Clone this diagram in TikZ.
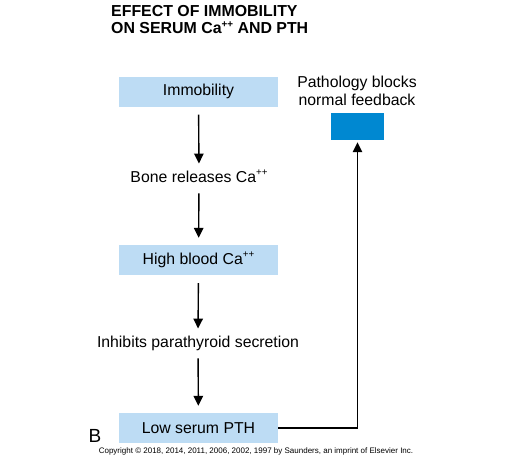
\documentclass[tikz,border=0pt]{standalone}
\usepackage{fontspec}
\setmainfont{Liberation Sans}
\usetikzlibrary{arrows.meta}

\definecolor{boxblue}{RGB}{189,220,244}
\definecolor{blockblue}{RGB}{0,136,209}

% small raised plus signs
\newcommand{\ionplus}{\raisebox{0.42em}{\fontsize{0.62em}{0.62em}\selectfont ++}}

\begin{document}
\begin{tikzpicture}[
    x=1pt, y=-1pt,
    box/.style={fill=boxblue, minimum width=159pt, minimum height=30pt, inner sep=0pt, font=\fontsize{15.8}{18}\selectfont},
    step txt/.style={inner sep=0pt, text height=11.5pt, text depth=3pt, font=\fontsize{15.8}{18}\selectfont},
    flow/.style={-{Triangle[length=10pt,width=9.5pt]}, line width=1.4pt, shorten <=8pt, shorten >=7pt},
    fb/.style={-{Triangle[length=10pt,width=9.5pt]}, line width=1.4pt, shorten >=2pt}
]
    \useasboundingbox (0,0) rectangle (512,459);

    % Title
    \node[anchor=north west, inner sep=0pt, align=left, font=\bfseries\fontsize{15.9}{17.5}\selectfont] (title) at (111,5)
        {EFFECT OF IMMOBILITY\\ON SERUM Ca\ionplus{} AND PTH};

    % Main chain
    \node[box] (immob) at (198.5,91.5) {Immobility};
    \node[step txt] (bone) at (199,178) {Bone releases Ca\ionplus};
    \node[box] (high) at (198.5,260) {High blood Ca\ionplus};
    \node[step txt] (inhib) at (198,343) {Inhibits parathyroid secretion};
    \node[box] (low) at (198.5,428) {Low serum PTH};

    % Blocked feedback
    \node[align=center, inner sep=0pt, font=\fontsize{15.8}{17.5}\selectfont] (patho) at (357,91) {Pathology blocks\\normal feedback};
    \node[fill=blockblue, minimum width=53pt, minimum height=27pt, inner sep=0pt] (block) at (357.5,126.5) {};

    \draw[flow] (immob) -- (bone);
    \draw[flow] (bone) -- (high);
    \draw[flow] (high) -- (inhib);
    \draw[flow] (inhib) -- (low);

    \draw[fb] (low.east) -| (block.south);

    % Panel letter and credit
    \node[inner sep=0pt, font=\fontsize{19}{20}\selectfont] (panel) at (95,436) {B};
    \node[inner sep=0pt, font=\fontsize{8}{9}\selectfont] (credit) at (256,451)
        {Copyright © 2018, 2014, 2011, 2006, 2002, 1997 by Saunders, an imprint of Elsevier Inc.};
\end{tikzpicture}
\end{document}
